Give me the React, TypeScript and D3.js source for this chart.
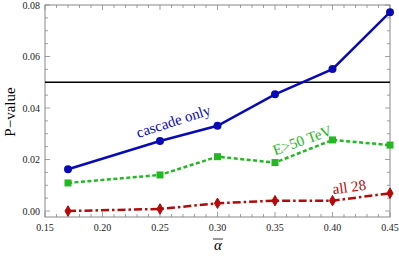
import React from "react";
import * as d3 from "d3";

const alphaValues = [0.17, 0.25, 0.3, 0.35, 0.4, 0.45];
const cascadeOnly = [0.0162, 0.0272, 0.0331, 0.0453, 0.0551, 0.0772];
const eAbove50 = [0.0109, 0.014, 0.0211, 0.0188, 0.0276, 0.0256];
const all28 = [0.0, 0.0008, 0.003, 0.004, 0.004, 0.0069];
const xTicks = [0.15, 0.2, 0.25, 0.3, 0.35, 0.4, 0.45];
const yTicks = [0, 0.02, 0.04, 0.06, 0.08];
const threshold = 0.05;

const W = 399, H = 257;
const L = 45, R = 390, T = 5, B = 217;

export default function App() {
  const x = d3.scaleLinear().domain([0.15, 0.45]).range([L, R]);
  const y = d3.scaleLinear().domain([-0.00233, 0.08]).range([B, T]);
  const line = (vals: number[]) =>
    d3.line<number>().x((_, i) => x(alphaValues[i])).y((v) => y(v))(vals) || "";
  const xMinor = d3.range(0.15, 0.4501, 0.01);
  const yMinor = d3.range(0, 0.0801, 0.005);
  const font = "Liberation Serif, Times New Roman, Times, DejaVu Serif, serif";
  const gray = "#888";
  const blue = "#0a0ab4";
  const green = "#22b822";
  const red = "#b40a0a";
  const diamond = d3.symbol().type(d3.symbolDiamond).size(32)() || "";
  return (
    <div style={{ position: "absolute", left: 0, top: 0 }}>
      <svg width={W} height={H} style={{ display: "block", background: "#fff" }}>
        <rect x={L} y={T} width={R - L} height={B - T} fill="none" stroke={gray} strokeWidth={1} />
        {xMinor.map((v, i) => {
          const major = xTicks.some((t) => Math.abs(t - v) < 1e-6);
          const len = major ? 5 : 3;
          return (
            <g key={"xm" + i}>
              <line x1={x(v)} x2={x(v)} y1={B} y2={B - len} stroke={gray} strokeWidth={0.8} />
              <line x1={x(v)} x2={x(v)} y1={T} y2={T + len} stroke={gray} strokeWidth={0.8} />
            </g>
          );
        })}
        {yMinor.map((v, i) => {
          const major = yTicks.some((t) => Math.abs(t - v) < 1e-6);
          const len = major ? 5 : 3;
          return (
            <g key={"ym" + i}>
              <line x1={L} x2={L + len} y1={y(v)} y2={y(v)} stroke={gray} strokeWidth={0.8} />
              <line x1={R} x2={R - len} y1={y(v)} y2={y(v)} stroke={gray} strokeWidth={0.8} />
            </g>
          );
        })}
        {xTicks.map((t) => (
          <text key={"xt" + t} x={x(t)} y={B + 14} fontFamily={font} fontSize={10} textAnchor="middle" fill="#222">
            {t.toFixed(2)}
          </text>
        ))}
        {yTicks.map((t) => (
          <text key={"yt" + t} x={L - 5} y={y(t) + 3.5} fontFamily={font} fontSize={10} textAnchor="end" fill="#222">
            {t.toFixed(2)}
          </text>
        ))}
        <line x1={L} x2={R} y1={y(threshold)} y2={y(threshold)} stroke="#000" strokeWidth={1.5} />
        <path d={line(all28)} fill="none" stroke={red} strokeWidth={2.5} strokeDasharray="8,3,2.5,3" />
        <path d={line(eAbove50)} fill="none" stroke={green} strokeWidth={2.5} strokeDasharray="4,2.5" />
        <path d={line(cascadeOnly)} fill="none" stroke={blue} strokeWidth={2.5} />
        {all28.map((v, i) => (
          <path key={"r" + i} d={diamond} transform={`translate(${x(alphaValues[i])},${y(v)})`} fill={red} stroke={red} strokeWidth={1} strokeLinejoin="round" />
        ))}
        {eAbove50.map((v, i) => (
          <rect key={"g" + i} x={x(alphaValues[i]) - 3.5} y={y(v) - 3.5} width={7} height={7} fill={green} />
        ))}
        {cascadeOnly.map((v, i) => (
          <circle key={"b" + i} cx={x(alphaValues[i])} cy={y(v)} r={4} fill={blue} />
        ))}
        <text transform="translate(175,126) rotate(-18)" fontFamily={font} fontSize={15} fill={blue} textAnchor="middle">
          cascade only
        </text>
        <text transform="translate(304,145) rotate(-20)" fontFamily={font} fontSize={15} fill={green} textAnchor="middle">
          E&gt;50 TeV
        </text>
        <text transform="translate(350,192) rotate(-8)" fontFamily={font} fontSize={15} fill={red} textAnchor="middle">
          all 28
        </text>
        <text transform="translate(15,112) rotate(-90)" fontFamily={font} fontSize={15} fill="#000" textAnchor="middle">
          P−value
        </text>
        <line x1={213} x2={223} y1={239} y2={239} stroke="#000" strokeWidth={0.8} />
        <text x={218} y={250} fontFamily={font} fontSize={15} fontStyle="italic" textAnchor="middle" fill="#000">
          α
        </text>
      </svg>
    </div>
  );
}
